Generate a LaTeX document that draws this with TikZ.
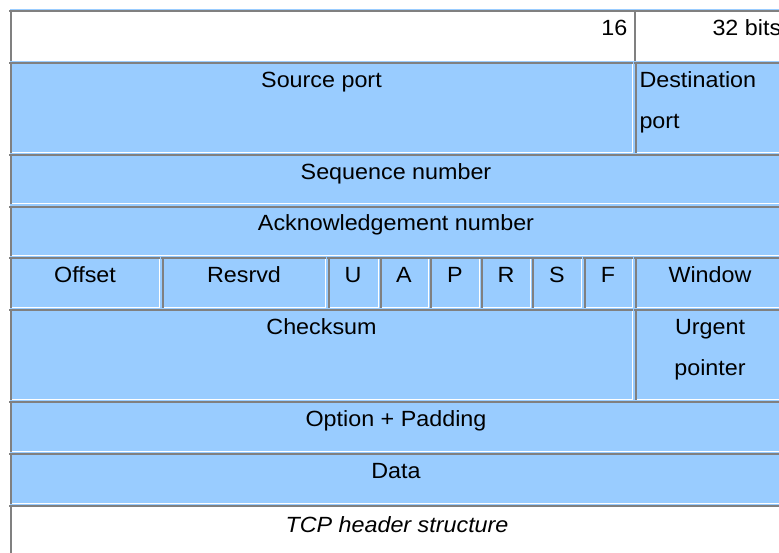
\documentclass[tikz,border=0pt]{standalone}
\usepackage{fontspec}
\setmainfont{Liberation Sans}[FakeStretch=1.06]
\definecolor{cellblue}{HTML}{99CCFF}
\definecolor{bevelgray}{HTML}{808080}
\newcommand\tcpcell[5]{%
  \fill[#5] (#1,#2) rectangle (#3,#4);
  \fill[bevelgray] (#1-1,#2) rectangle (#3,#2+2);
  \fill[bevelgray] (#1,#2) rectangle (#1+2,#4);
  \fill[white] (#1+2,#4-1) rectangle (#3,#4);
  \fill[white] (#3-1,#2+2) rectangle (#3,#4);
}
\tikzset{
  lbl/.style={inner sep=0pt, anchor=base, font=\fontsize{22}{26}\selectfont},
  lbltwo/.style={inner sep=0pt, font=\fontsize{22}{41}\selectfont},
}
\begin{document}
\begin{tikzpicture}[x={(1pt,0pt)}, y={(0pt,-1pt)}]
\useasboundingbox (0,0) rectangle (779,552);
\clip (0,0) rectangle (779,552);
\fill[white] (0,0) rectangle (779,552);
% table background
\fill[cellblue] (10,9) rectangle (800,600);
% row 1
\tcpcell{10}{10}{633.5}{61}{white}
\tcpcell{633.5}{10}{790}{61}{white}
% row 2
\tcpcell{10}{62}{633}{153}{cellblue}
\tcpcell{634.7}{62}{790}{153}{cellblue}
% row 3
\tcpcell{10}{154}{790}{204.3}{cellblue}
% row 4
\tcpcell{10}{205.7}{790}{256}{cellblue}
% row 5
\tcpcell{10}{257.3}{160.3}{307.7}{cellblue}
\tcpcell{162}{257.3}{326}{307.7}{cellblue}
\tcpcell{328}{257.3}{378.7}{307.7}{cellblue}
\tcpcell{379.5}{257.3}{428.7}{307.7}{cellblue}
\tcpcell{430}{257.3}{479.5}{307.7}{cellblue}
\tcpcell{481}{257.3}{530.5}{307.7}{cellblue}
\tcpcell{532}{257.3}{581.5}{307.7}{cellblue}
\tcpcell{583.5}{257.3}{633}{307.7}{cellblue}
\tcpcell{634.7}{257.3}{790}{307.7}{cellblue}
% row 6
\tcpcell{10}{309.3}{633}{399.5}{cellblue}
\tcpcell{634.7}{309.3}{790}{399.5}{cellblue}
% row 7
\tcpcell{10}{400.7}{790}{452}{cellblue}
% row 8
\tcpcell{10}{452.7}{790}{504}{cellblue}
% row 9
\tcpcell{10}{505}{790}{600}{white}
% texts
\node[lbl, anchor=base east] (t16) at (627.5,35) {16};
\node[lbl, anchor=base west] (t32) at (712.3,35) {32 bits};
\node[lbl] (tsrc) at (321.5,87.5) {Source port};
\node[lbltwo, anchor=base west, align=left] (tdst) at (639.3,128.5) {Destination\\port};
\node[lbl] (tseq) at (396,179.2) {Sequence number};
\node[lbl] (tack) at (396,230.8) {Acknowledgement number};
\node[lbl] (toff) at (85,282.3) {Offset};
\node[lbl] (tres) at (244,282.3) {Resrvd};
\node[lbl] (tu) at (353,282.3) {U};
\node[lbl] (ta) at (404,282.3) {A};
\node[lbl] (tp) at (455,282.3) {P};
\node[lbl] (tr) at (506,282.3) {R};
\node[lbl] (ts) at (557,282.3) {S};
\node[lbl] (tf) at (608,282.3) {F};
\node[lbl] (twin) at (710,282.3) {Window};
\node[lbl] (tchk) at (321.5,334.8) {Checksum};
\node[lbltwo, anchor=base, align=center] (turg) at (710,375.8) {Urgent\\pointer};
\node[lbl] (topt) at (396,426.2) {Option + Padding};
\node[lbl] (tdata) at (396,478) {Data};
\node[lbl, font=\fontsize{22}{26}\selectfont\itshape] (tcap) at (397,532.3) {TCP header structure};
\end{tikzpicture}
\end{document}
